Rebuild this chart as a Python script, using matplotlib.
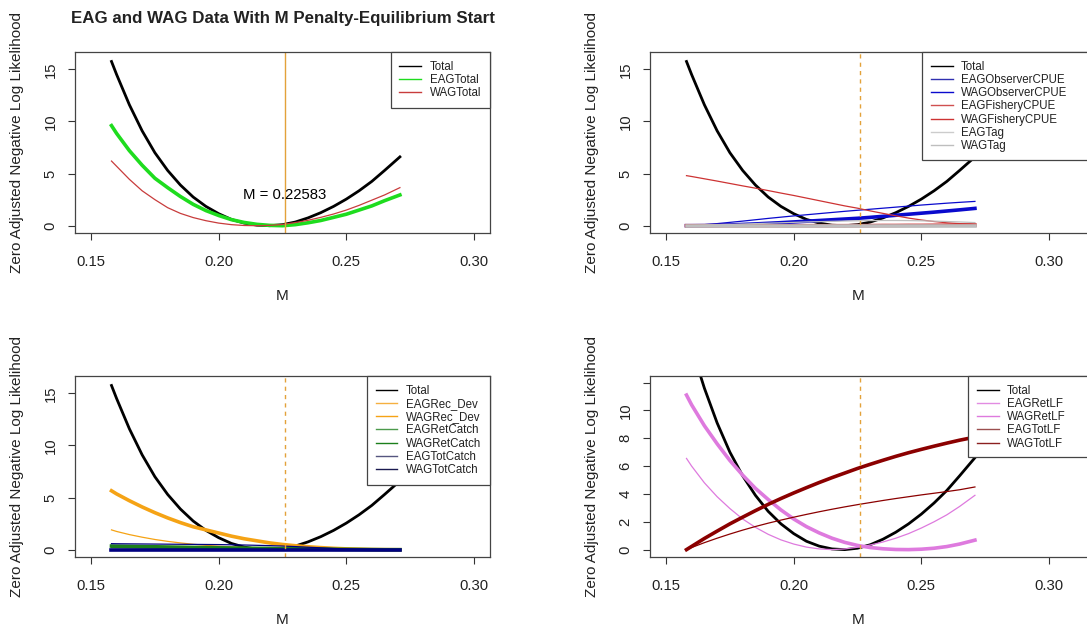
import matplotlib
matplotlib.use("Agg")
import matplotlib.pyplot as plt
from matplotlib.lines import Line2D
from matplotlib.patches import Rectangle

plt.rcParams["font.family"] = ["Liberation Sans", "DejaVu Sans"]

# M grid of the profile runs
M = [0.158, 0.160, 0.165, 0.170, 0.175, 0.180, 0.185, 0.190, 0.195, 0.200, 0.205, 0.210,
     0.215, 0.220, 0.225, 0.230, 0.235, 0.240, 0.245, 0.250, 0.255, 0.260, 0.265, 0.271]
M_BEST = 0.22583

total = [15.75, 14.5, 11.6, 9.1, 7.0, 5.3, 3.9, 2.75, 1.85, 1.15, 0.6, 0.25,
         0.05, 0.0, 0.1, 0.35, 0.75, 1.25, 1.85, 2.55, 3.35, 4.25, 5.3, 6.6]

# panel 1
eag_total = [9.6, 8.85, 7.2, 5.8, 4.55, 3.65, 2.8, 2.05, 1.45, 0.98, 0.58, 0.31,
             0.13, 0.03, 0.0, 0.1, 0.28, 0.5, 0.8, 1.1, 1.5, 1.9, 2.4, 2.95]
wag_total = [6.2, 5.7, 4.45, 3.35, 2.5, 1.73, 1.18, 0.78, 0.48, 0.25, 0.1, 0.02,
             0.0, 0.03, 0.12, 0.3, 0.52, 0.8, 1.12, 1.5, 1.95, 2.45, 2.95, 3.65]

# panel 2
eag_obs = [0.0, 0.0, 0.01, 0.03, 0.07, 0.12, 0.17, 0.23, 0.29, 0.36, 0.43, 0.5,
           0.57, 0.64, 0.71, 0.8, 0.9, 1.0, 1.1, 1.2, 1.3, 1.41, 1.52, 1.66]
wag_obs = [0.0, 0.02, 0.1, 0.2, 0.32, 0.44, 0.57, 0.7, 0.82, 0.94, 1.05, 1.16,
           1.27, 1.38, 1.48, 1.58, 1.68, 1.78, 1.88, 1.98, 2.07, 2.16, 2.24, 2.33]
eag_fish = [0.0, 0.0, 0.0, 0.0, 0.0, 0.0, 0.0, 0.0, 0.0, 0.0, 0.0, 0.0,
            0.0, 0.0, 0.01, 0.01, 0.02, 0.02, 0.03, 0.03, 0.04, 0.05, 0.05, 0.06]
wag_fish = [4.8, 4.72, 4.5, 4.28, 4.05, 3.82, 3.6, 3.37, 3.13, 2.9, 2.65, 2.4,
            2.15, 1.9, 1.68, 1.42, 1.18, 0.95, 0.73, 0.55, 0.4, 0.28, 0.2, 0.15]
eag_tag = [0.0, 0.0, 0.0, 0.0, 0.0, 0.0, 0.0, 0.0, 0.0, 0.0, 0.0, 0.0,
           0.0, 0.0, 0.0, 0.0, 0.0, 0.0, 0.0, 0.0, 0.0, 0.0, 0.0, 0.0]
wag_tag = [0.0, 0.01, 0.04, 0.08, 0.12, 0.16, 0.2, 0.24, 0.28, 0.32, 0.36, 0.39,
           0.42, 0.45, 0.47, 0.49, 0.5, 0.5, 0.49, 0.47, 0.44, 0.4, 0.36, 0.3]

# panel 3
eag_rec = [5.65, 5.35, 4.7, 4.1, 3.55, 3.05, 2.6, 2.2, 1.9, 1.6, 1.3, 1.05,
           0.85, 0.65, 0.5, 0.38, 0.28, 0.2, 0.13, 0.08, 0.05, 0.02, 0.01, 0.0]
wag_rec = [1.9, 1.75, 1.45, 1.2, 0.98, 0.8, 0.65, 0.52, 0.42, 0.34, 0.27, 0.21,
           0.16, 0.12, 0.09, 0.06, 0.04, 0.03, 0.02, 0.01, 0.0, 0.0, 0.0, 0.0]
eag_ret = [0.35, 0.34, 0.32, 0.3, 0.28, 0.26, 0.24, 0.22, 0.2, 0.18, 0.16, 0.15,
           0.13, 0.12, 0.1, 0.09, 0.07, 0.06, 0.04, 0.03, 0.02, 0.01, 0.0, 0.0]
wag_ret = [0.2, 0.19, 0.18, 0.17, 0.16, 0.15, 0.14, 0.13, 0.12, 0.11, 0.1, 0.09,
           0.08, 0.07, 0.06, 0.05, 0.04, 0.03, 0.02, 0.02, 0.01, 0.01, 0.0, 0.0]
eag_totc = [0.0, 0.0, 0.0, 0.0, 0.0, 0.0, 0.0, 0.0, 0.0, 0.0, 0.0, 0.0,
            0.0, 0.0, 0.0, 0.0, 0.0, 0.0, 0.0, 0.0, 0.0, 0.0, 0.0, 0.0]
wag_totc = [0.58, 0.57, 0.56, 0.55, 0.54, 0.53, 0.52, 0.51, 0.5, 0.49, 0.47, 0.45,
            0.42, 0.39, 0.35, 0.3, 0.24, 0.18, 0.12, 0.07, 0.04, 0.02, 0.01, 0.0]

# panel 4
eag_retlf = [11.1, 10.4, 8.9, 7.6, 6.4, 5.35, 4.4, 3.6, 2.85, 2.2, 1.65, 1.2,
             0.82, 0.52, 0.3, 0.15, 0.06, 0.01, 0.0, 0.03, 0.1, 0.22, 0.4, 0.68]
wag_retlf = [6.55, 6.0, 4.8, 3.8, 2.95, 2.2, 1.6, 1.1, 0.7, 0.4, 0.18, 0.05,
             0.0, 0.05, 0.17, 0.33, 0.55, 0.82, 1.15, 1.55, 2.0, 2.5, 3.1, 3.9]
eag_totlf = [0.0, 0.23, 0.8, 1.33, 1.85, 2.33, 2.8, 3.25, 3.67, 4.07, 4.45, 4.82,
             5.17, 5.5, 5.83, 6.13, 6.42, 6.7, 6.96, 7.2, 7.43, 7.65, 7.86, 8.08]
wag_totlf = [0.0, 0.15, 0.5, 0.82, 1.12, 1.4, 1.66, 1.9, 2.12, 2.33, 2.53, 2.72,
             2.9, 3.07, 3.23, 3.38, 3.53, 3.67, 3.8, 3.93, 4.05, 4.17, 4.3, 4.5]

x_ticks = [0.15, 0.20, 0.25, 0.30]
x_labels = ["0.15", "0.20", "0.25", "0.30"]

W, H = 1087, 631
TXT = "#222222"
EDGE = "#444444"
VLINE = "#E3A23A"
THICK, THIN = 2.6, 0.9

fig = plt.figure(figsize=(W / 100, H / 100), dpi=100)


def px_axes(left, top, right, bottom):
    return fig.add_axes([left / W, 1 - bottom / H, (right - left) / W, (bottom - top) / H])


def style(ax, xlim, ylim, yticks, ylabels):
    ax.set_xlim(*xlim)
    ax.set_ylim(*ylim)
    ax.set_xticks(x_ticks)
    ax.set_xticklabels(x_labels)
    ax.set_yticks(yticks)
    ax.set_yticklabels(ylabels, rotation=90, va="center")
    ax.tick_params(direction="out", length=5, width=0.8, color="#333333",
                   labelsize=10.7, labelcolor=TXT)
    ax.tick_params(axis="x", pad=11)
    ax.tick_params(axis="y", pad=7.5)
    for s in ax.spines.values():
        s.set_color(EDGE)
        s.set_linewidth(0.9)


def legend(ax, entries, anchor, loc, box=None):
    handles = [Line2D([], [], color=c, lw=1.0) for c, _ in entries]
    labels = [t for _, t in entries]
    leg = ax.legend(handles, labels, loc=loc, bbox_to_anchor=anchor,
                    bbox_transform=fig.transFigure, fontsize=8.3,
                    frameon=box is None, fancybox=False, framealpha=1,
                    edgecolor=EDGE, handlelength=1.9, handletextpad=0.75,
                    borderpad=0.75, labelspacing=0.11, borderaxespad=0)
    leg.get_frame().set_linewidth(0.9)
    for t in leg.get_texts():
        t.set_color(TXT)
    if box is not None:
        # legend frame runs past the right edge of the picture
        l, t, r, b = box
        ax.add_patch(Rectangle((l / W, 1 - b / H), (r - l) / W, (b - t) / H,
                               transform=fig.transFigure, facecolor="white",
                               edgecolor=EDGE, lw=0.9, zorder=4.9, clip_on=False))


xl_left = (0.1437, 0.3063)
xl_right = (0.1437, 0.3200)
yl16 = (-0.70, 16.66)

# ---- top left
ax1 = px_axes(75, 52, 490, 233)
ax1.plot(M, total, color="black", lw=2.0)
ax1.plot(M, eag_total, color="#1EDC1E", lw=THICK)
ax1.plot(M, wag_total, color="#C83C3C", lw=THIN)
ax1.axvline(M_BEST, color=VLINE, lw=1.0)
ax1.text(M_BEST, 2.9, "M = 0.22583", ha="center", va="center", fontsize=10.7)
style(ax1, xl_left, yl16, [0, 5, 10, 15], ["0", "5", "10", "15"])
legend(ax1, [("black", "Total"), ("#1EDC1E", "EAGTotal"), ("#C83C3C", "WAGTotal")],
       (490 / W, 1 - 52 / H), "upper right")
ax1.set_title("EAG and WAG Data With M Penalty-Equilibrium Start", fontsize=12.2,
              fontweight="bold", color=TXT, pad=21)

# ---- top right
ax2 = px_axes(650, 52, 1100, 233)
ax2.plot(M, total, color="black", lw=2.0)
ax2.plot(M, eag_obs, color="#0A0ACD", lw=THICK)
ax2.plot(M, wag_obs, color="#0A0ACD", lw=THIN)
ax2.plot(M, eag_fish, color="#CD3333", lw=THICK)
ax2.plot(M, wag_fish, color="#CD3333", lw=THIN)
ax2.plot(M, eag_tag, color="#BEBEBE", lw=THICK)
ax2.plot(M, wag_tag, color="#BEBEBE", lw=THIN)
ax2.axvline(M_BEST, color=VLINE, lw=1.0, dashes=(3, 3))
style(ax2, xl_right, yl16, [0, 5, 10, 15], ["0", "5", "10", "15"])
legend(ax2, [("black", "Total"), ("#3030B0", "EAGObserverCPUE"), ("#0A0ACD", "WAGObserverCPUE"),
             ("#D05050", "EAGFisheryCPUE"), ("#CD3333", "WAGFisheryCPUE"),
             ("#CCCCCC", "EAGTag"), ("#BEBEBE", "WAGTag")],
       (922 / W, 1 - 52 / H), "upper left", box=(922, 52, 1110, 160))

# ---- bottom left
ax3 = px_axes(75, 376, 490, 557)
ax3.plot(M, total, color="black", lw=2.0)
ax3.plot(M, eag_rec, color="#F5A315", lw=THICK)
ax3.plot(M, wag_rec, color="#F5A315", lw=THIN)
ax3.plot(M, eag_ret, color="#1B7F1B", lw=THICK)
ax3.plot(M, wag_ret, color="#1B7F1B", lw=THIN)
ax3.plot(M, eag_totc, color="#000080", lw=THICK)
ax3.plot(M, wag_totc, color="#000080", lw=THIN)
ax3.axvline(M_BEST, color=VLINE, lw=1.0, dashes=(3, 3))
style(ax3, xl_left, yl16, [0, 5, 10, 15], ["0", "5", "10", "15"])
legend(ax3, [("black", "Total"), ("#F5B040", "EAGRec_Dev"), ("#F5A315", "WAGRec_Dev"),
             ("#4C9A4C", "EAGRetCatch"), ("#1B7F1B", "WAGRetCatch"),
             ("#55557F", "EAGTotCatch"), ("#1A1A50", "WAGTotCatch")],
       (490 / W, 1 - 376 / H), "upper right")

# ---- bottom right
ax4 = px_axes(650, 376, 1100, 557)
ax4.plot(M, total, color="black", lw=2.0)
ax4.plot(M, eag_retlf, color="#DE7ADE", lw=THICK)
ax4.plot(M, wag_retlf, color="#DE7ADE", lw=THIN)
ax4.plot(M, eag_totlf, color="#8B0000", lw=THICK)
ax4.plot(M, wag_totlf, color="#8B0000", lw=THIN)
ax4.axvline(M_BEST, color=VLINE, lw=1.0, dashes=(3, 3))
style(ax4, xl_right, (-0.53, 12.47), [0, 2, 4, 6, 8, 10, 12],
      ["0", "2", "4", "6", "8", "10", ""])
legend(ax4, [("black", "Total"), ("#E28CE2", "EAGRetLF"), ("#DE7ADE", "WAGRetLF"),
             ("#9B4F4F", "EAGTotLF"), ("#8B2020", "WAGTotLF")],
       (968 / W, 1 - 376 / H), "upper left", box=(968, 376, 1110, 457))

# axis titles
for cx, top in [(282, 52), (858, 52), (282, 376), (858, 376)]:
    fig.text(cx / W, 1 - (top + 244) / H, "M", ha="center", va="center",
             fontsize=11, color=TXT)
for cx, cy in [(17, 142.5), (592, 142.5), (17, 466.5), (592, 466.5)]:
    fig.text(cx / W, 1 - cy / H, "Zero Adjusted Negative Log Likelihood", rotation=90,
             ha="center", va="center", fontsize=11, color=TXT)

fig.savefig("out.png", dpi=100)
